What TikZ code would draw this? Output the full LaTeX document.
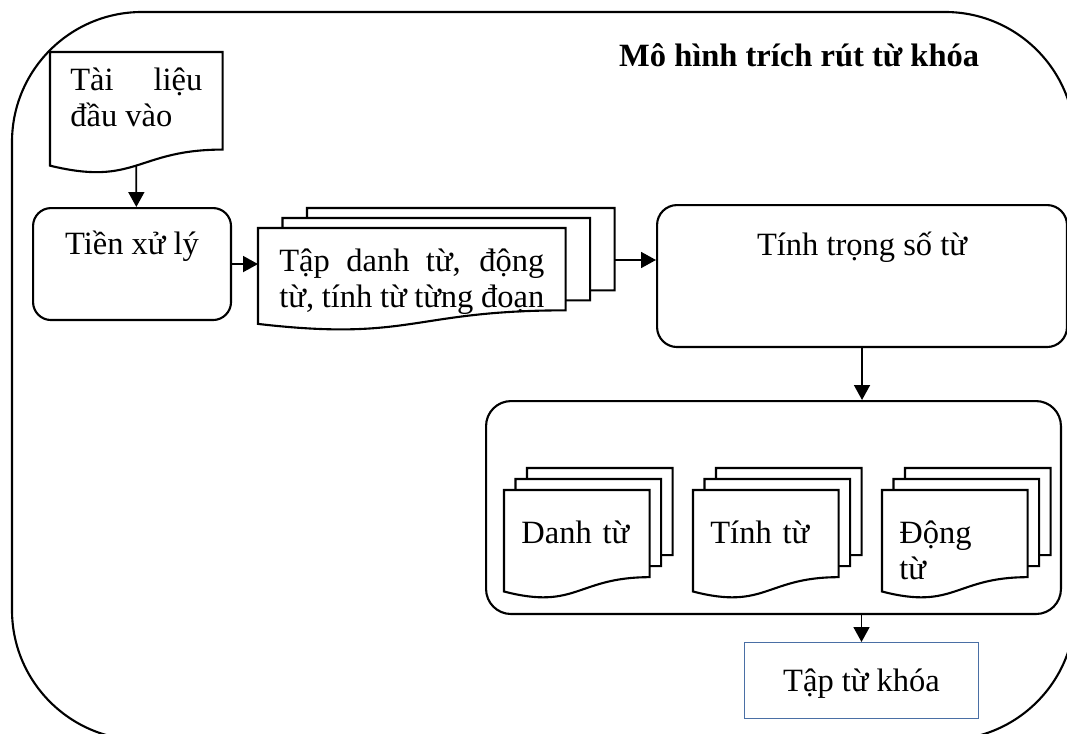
\documentclass[tikz,border=0pt]{standalone}
\usepackage{fontspec}
\setmainfont{Liberation Serif}
\usetikzlibrary{arrows.meta, positioning, calc}
\definecolor{keyblue}{HTML}{4A6FA5}

% wavy-bottom page drawn round a named node
\newcommand{\docframe}[1]{%
  \draw[sheet] (#1.north west) -- (#1.north east)
    -- ($(#1.north east)!.802!(#1.south east)$)
    .. controls ($(#1.north)!.802!(#1.south)$) and ($(#1.north)!1.108!(#1.south)$)
    .. ($(#1.north west)!.934!(#1.south west)$) -- cycle;}
% two pages peeking out behind a front page (#2 = x step, #3 = y step)
\newcommand{\backsheets}[3]{%
  \foreach \k in {1,2}
    \draw[sheet] ($(#1.north west)+(\k*#2,{(1-\k)*#3})$) -- ++(0,-#3)
      -- ($(#1.north east)+(\k*#2,-\k*#3)$)
      -- ($(#1.north east)!.802!(#1.south east)+(\k*#2,-\k*#3)$)
      -- ++(-#2,0);}

\begin{document}
\begin{tikzpicture}[x=0.02cm, y=-0.02cm,
  font=\fontsize{18.5}{20.5}\selectfont,
  frame/.style={line width=1.2pt, rounded corners=2.6cm},
  box/.style={draw, line width=1.2pt, rounded corners=0.36cm, inner sep=0pt, anchor=north west},
  sheet/.style={line width=1.2pt},
  sheettext/.style={inner ysep=0pt, anchor=north west, align=justify},
  flow/.style={-{Triangle[length=0.3cm,width=0.32cm]}, line width=1pt}]
  \useasboundingbox (0,0) rectangle (1067,733);
  \clip (0,0) rectangle (1067,733);
  % outer frame, it runs off the page at the right and bottom
  \draw[frame] (12,12) rectangle (1075,740);
  \node[font=\fontsize{18.5}{20.5}\selectfont\bfseries, anchor=base west] (title) at (613,67) {Mô hình trích rút từ khóa};

  % input document
  \node[sheettext, text width=2.64cm, inner xsep=0.4cm, text height=0.76cm, text depth=1.66cm]
    (input) at (50,52) {Tài liệu\linebreak đầu vào};
  \docframe{input}

  \node[box, minimum width=3.96cm, text height=0.92cm, text depth=1.32cm] (prep) at (32,207) {Tiền xử lý\hspace{0.2cm}};

  % word sets per paragraph
  \node[sheettext, text width=5.3cm, inner xsep=0.42cm, text height=0.86cm, text depth=1.18cm]
    (stack) at (258,228) {Tập danh từ, động\linebreak từ, tính từ từng đoạn};
  \docframe{stack}
  \backsheets{stack}{24.5}{10}

  \node[box, rounded corners=0.4cm, minimum width=8.2cm, text height=1.0cm, text depth=1.84cm]
    (weight) at (656,204) {Tính trọng số từ};

  \node[box, rounded corners=0.5cm, minimum width=11.5cm, minimum height=4.26cm] (classes) at (485,400) {};
  \foreach \name/\x/\txt in {noun/504/Danh từ, adj/693/Tính từ, verb/882/Động\\từ} {
    \node[sheettext, align=left, text width=2.22cm, inner xsep=0.34cm, text height=1.06cm, text depth=1.1cm]
      (\name) at (\x,490) {\txt};
    \docframe{\name}
    \backsheets{\name}{11.5}{11}
  }

  \node[draw=keyblue, line width=0.6pt, inner sep=0pt, anchor=north west, minimum width=4.68cm,
    text height=0.98cm, text depth=0.54cm] (result) at (744,642) {Tập từ khóa};

  \draw[flow] ($(input.north)!.93!(input.south)$) -- (input.south |- prep.north);
  \draw[flow] (prep.east) -- (prep.east -| stack.west);
  \draw[flow] ($(stack.north east)+(49,32)$) coordinate (s) -- (s -| weight.west);
  \draw[flow] (weight.south) -- (weight.south |- classes.north);
  \draw[flow] (result.north |- classes.south) -- (result.north);
\end{tikzpicture}
\end{document}
